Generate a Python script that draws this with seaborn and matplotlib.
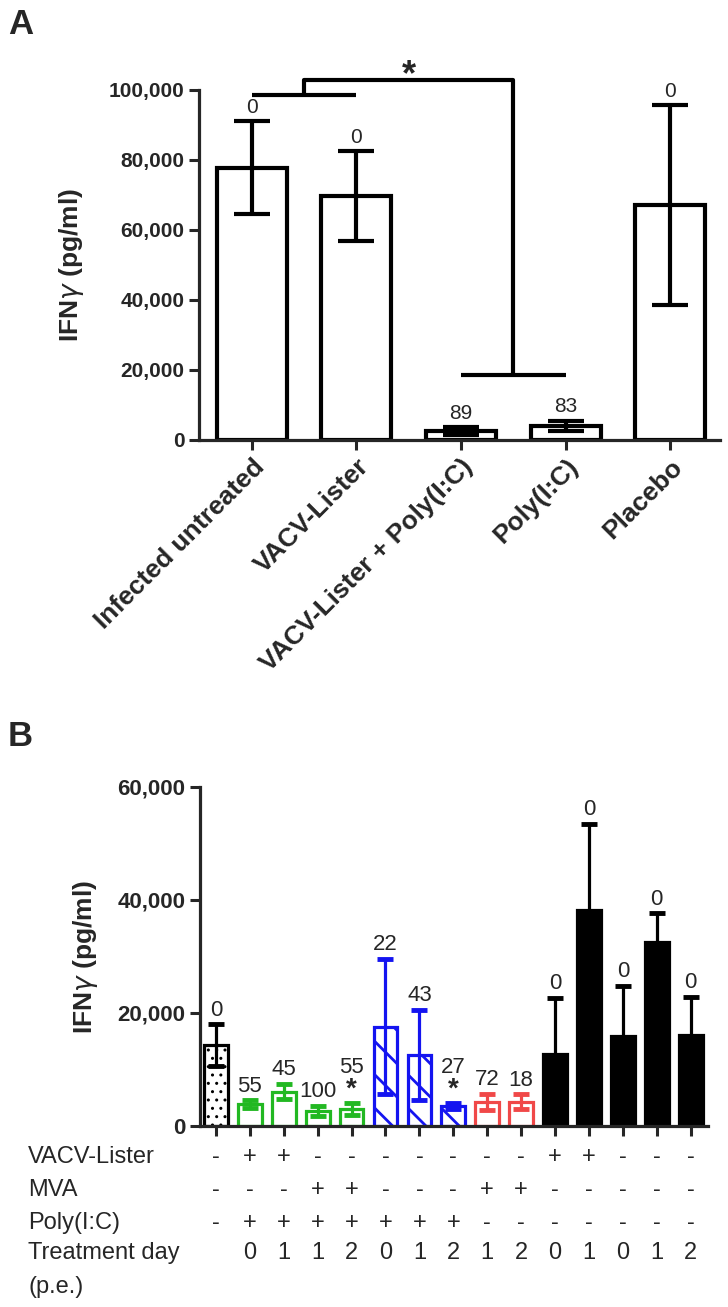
import numpy as np
import pandas as pd
import matplotlib
matplotlib.use("Agg")
import matplotlib.pyplot as plt
import seaborn as sns
from matplotlib import font_manager
from matplotlib.ticker import FuncFormatter
from matplotlib.transforms import blended_transform_factory

# ---- data, panel A ----
groups_a = ["Infected untreated", "VACV-Lister", "VACV-Lister + Poly(I:C)", "Poly(I:C)", "Placebo"]
mean_a = [77800, 69700, 2500, 4100, 67200]
err_a = [13200, 12800, 1200, 1400, 28500]
pct_a = ["0", "0", "89", "83", "0"]

# ---- data, panel B ----
mean_b = [14300, 3900, 6100, 2700, 3000, 17600, 12600, 3500, 4300, 4300,
          12700, 38300, 15900, 32500, 16100]
err_b = [3700, 700, 1400, 900, 1000, 12000, 8000, 500, 1400, 1300,
         10000, 15200, 8900, 5200, 6800]
pct_b = ["0", "55", "45", "100", "55", "22", "43", "27", "72", "18",
         "0", "0", "0", "0", "0"]
star_b = [4, 7]
kind_b = ["ctrl", "green", "green", "green", "green", "blue", "blue", "blue",
          "red", "red", "black", "black", "black", "black", "black"]

vacv_row = ["-", "+", "+", "-", "-", "-", "-", "-", "-", "-", "+", "+", "-", "-", "-"]
mva_row = ["-", "-", "-", "+", "+", "-", "-", "-", "+", "+", "-", "-", "-", "-", "-"]
poly_row = ["-", "+", "+", "+", "+", "+", "+", "+", "-", "-", "-", "-", "-", "-", "-"]
day_row = ["", "0", "1", "1", "2", "0", "1", "2", "1", "2", "0", "1", "0", "1", "2"]
row_names = ["VACV-Lister", "MVA", "Poly(I:C)", "Treatment day", "(p.e.)"]

colors = {"ctrl": "black", "green": "#22B822", "blue": "#1414F0",
          "red": "#F04848", "black": "black"}

sns.set_style("ticks")
names = {f.name for f in font_manager.fontManager.ttflist}
narrow = "Liberation Sans Narrow" if "Liberation Sans Narrow" in names else "Liberation Sans"
plt.rcParams['font.family'] = [narrow, 'DejaVu Sans']
plt.rcParams['hatch.linewidth'] = 2.0

W, H = 728, 1307
fig = plt.figure(figsize=(W / 100, H / 100), dpi=100)

def style_axis(ax, tick_size):
    sns.despine(ax=ax)
    for s in ["left", "bottom"]:
        ax.spines[s].set_linewidth(2.3)
    ax.tick_params(width=2.2, length=7, labelsize=tick_size)
    ax.yaxis.set_major_formatter(FuncFormatter(lambda v, p: f"{int(v):,}"))
    for lab in ax.get_yticklabels():
        lab.set_fontweight("bold")

# ---------------- Panel A ----------------
axA = fig.add_axes([199 / W, 1 - 440 / H, 521 / W, 350 / H])
dfA = pd.DataFrame({"group": groups_a, "ifn": mean_a})
sns.barplot(data=dfA, x="group", y="ifn", color="white", width=0.67,
            edgecolor="black", linewidth=3, ax=axA, errorbar=None)
axA.errorbar(range(len(groups_a)), mean_a, yerr=err_a, fmt="none",
             ecolor="black", elinewidth=3, capsize=13, capthick=3, zorder=5)
axA.set_xlim(-0.505, 4.476)
axA.set_ylim(0, 100000)
axA.set_yticks(np.arange(0, 100001, 20000))
style_axis(axA, 15)
axA.set_xlabel("")
axA.set_ylabel(r"IFN$\gamma$ (pg/ml)", fontsize=19, fontweight="bold",
               family="Liberation Sans")
axA.yaxis.set_label_coords(-0.217, 0.5)
axA.set_xticks(range(len(groups_a)))
axA.set_xticklabels(groups_a, rotation=45, ha="right", rotation_mode="anchor",
                    fontsize=19, fontweight="bold", family="Liberation Sans")
for i, t in enumerate(pct_a):
    axA.annotate(t, (i, mean_a[i] + err_a[i]), xytext=(0, 10),
                 textcoords="offset points", ha="center", va="center", fontsize=15)

# significance brackets
bk = dict(color="black", lw=3, clip_on=False, solid_capstyle="butt")
axA.plot([0, 1], [98600, 98600], **bk)
axA.plot([0.5, 0.5, 2.5, 2.5], [98600, 102900, 102900, 18700], **bk)
axA.plot([2, 3], [18700, 18700], **bk)
axA.text(1.5, 104000, "*", ha="center", va="center", fontsize=26, fontweight="bold")
fig.text(8 / W, 1 - 25 / H, "A", fontsize=25, fontweight="bold",
         family="Liberation Sans", va="center")

# ---------------- Panel B ----------------
axB = fig.add_axes([200 / W, 1 - 1126 / H, 508 / W, 339 / H])
dfB = pd.DataFrame({"bar": [f"b{i}" for i in range(15)], "ifn": mean_b})
sns.barplot(data=dfB, x="bar", y="ifn", color="white", width=0.7,
            edgecolor="black", linewidth=2.3, ax=axB, errorbar=None)
for i, p in enumerate(axB.patches):
    c = colors[kind_b[i]]
    p.set_edgecolor(c)
    if kind_b[i] == "black":
        p.set_facecolor("black")
    elif kind_b[i] == "ctrl":
        p.set_hatch("..")
        p.set_hatch_linewidth(1.0) if hasattr(p, "set_hatch_linewidth") else None
    elif kind_b[i] == "blue":
        p.set_hatch("\\")
for i in range(15):
    c = colors[kind_b[i]]
    axB.errorbar(i, mean_b[i], yerr=err_b[i], fmt="none", ecolor=c,
                 elinewidth=2.3, capsize=6, capthick=3.5, zorder=5)
    top = mean_b[i] + err_b[i]
    if i in star_b:
        axB.annotate("*", (i, top), xytext=(0, 10), textcoords="offset points",
                     ha="center", va="center", fontsize=20, fontweight="bold")
        axB.annotate(pct_b[i], (i, top), xytext=(0, 26), textcoords="offset points",
                     ha="center", va="center", fontsize=16)
    else:
        axB.annotate(pct_b[i], (i, top), xytext=(0, 10), textcoords="offset points",
                     ha="center", va="center", fontsize=16)
axB.set_xlim(-0.47, 14.51)
axB.set_ylim(0, 60000)
axB.set_yticks(np.arange(0, 60001, 20000))
style_axis(axB, 16)
axB.set_xticks(range(15))
axB.set_xticklabels([])
axB.set_xlabel("")
axB.set_ylabel(r"IFN$\gamma$ (pg/ml)", fontsize=19, fontweight="bold",
               family="Liberation Sans")
axB.yaxis.set_label_coords(-0.197, 0.5)
fig.text(8 / W, 1 - 737 / H, "B", fontsize=25, fontweight="bold",
         family="Liberation Sans", va="center")

# treatment table under panel B
tr = blended_transform_factory(axB.transData, fig.transFigure)
rows_y = [1157, 1190, 1223, 1253, 1287]
for name, yy in zip(row_names, rows_y):
    fig.text(28 / W, 1 - yy / H, name, fontsize=17, va="center")
for row, yy in zip([vacv_row, mva_row, poly_row, day_row], rows_y):
    for i, s in enumerate(row):
        axB.text(i, 1 - yy / H, s, transform=tr, ha="center", va="center", fontsize=17)

fig.savefig("out.png", dpi=100)
